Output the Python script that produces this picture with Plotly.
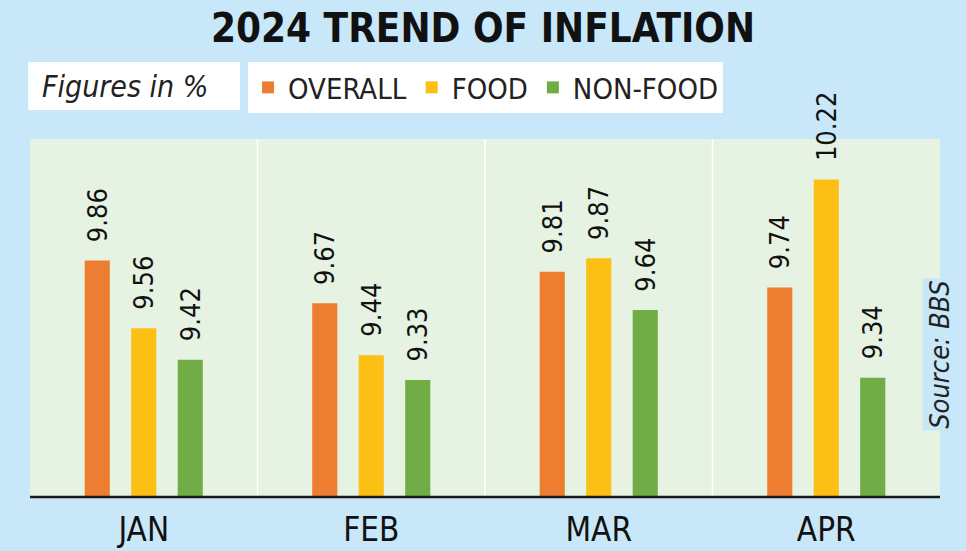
import plotly.graph_objects as go

months = ["JAN", "FEB", "MAR", "APR"]
overall = [9.86, 9.67, 9.81, 9.74]
food = [9.56, 9.44, 9.87, 10.22]
non_food = [9.42, 9.33, 9.64, 9.34]
series_names = ["OVERALL", "FOOD", "NON-FOOD"]
colors = ["#ED7D31", "#FCBF14", "#70AD47"]

FONT = "DejaVu Sans Condensed, sans-serif"
BG = "#C8E8FA"
PLOT_BG = "#E6F2E2"
Y0, Y1 = 8.81, 10.40

fig = go.Figure()
for name, vals, col in zip(series_names, [overall, food, non_food], colors):
    fig.add_trace(go.Bar(
        x=months, y=[v - Y0 for v in vals], base=Y0, name=name,
        marker=dict(color=col, line=dict(width=0)),
        text=["\u00a0\u00a0" + f"{v:.2f}" for v in vals], textposition="outside",
        textangle=-90, constraintext="none", cliponaxis=False,
        textfont=dict(family=FONT, size=27, color="#111111"),
    ))

fig.update_layout(
    width=966, height=551,
    margin=dict(l=30, r=26, t=139, b=54, autoexpand=False),
    paper_bgcolor=BG, plot_bgcolor=PLOT_BG,
    barmode="group", bargap=0.387, bargroupgap=0.46,
    title=dict(text="<b>2024 TREND OF INFLATION</b>", x=0.5, xanchor="center",
               y=1 - 28 / 551, yanchor="middle", yref="container",
               font=dict(family=FONT, size=40, color="#111111")),
    showlegend=True,
    legend=dict(orientation="h", x=0.2396, xanchor="left", y=1.215, yanchor="top",
                bgcolor="white", borderwidth=0,
                font=dict(family=FONT, size=29, color="#222222"),
                itemsizing="constant", traceorder="normal"),
    xaxis=dict(showgrid=False, zeroline=False, showline=False, ticks="",
               ticklabelstandoff=10, automargin=False,
               tickfont=dict(family=FONT, size=33, color="#111111")),
    yaxis=dict(range=[Y0, Y1], visible=False, showgrid=False, zeroline=False,
               automargin=False),
)

# white separators between months
for i in range(len(months) - 1):
    fig.add_shape(type="line", xref="x", yref="paper", x0=i + 0.5, x1=i + 0.5,
                  y0=0, y1=1, line=dict(color="white", width=1.5), layer="below")

# baseline
fig.add_shape(type="line", xref="paper", yref="paper", x0=0, x1=1, y0=0, y1=0,
              line=dict(color="#1a1a1a", width=2.5))

# "Figures in %" box
fig.add_shape(type="rect", xref="paper", yref="paper", x0=-0.002, x1=0.2308,
              y0=1.081, y1=1.215, fillcolor="white", line=dict(width=0))
fig.add_annotation(xref="paper", yref="paper", x=0.011, y=1.148, xanchor="left",
                   yanchor="middle", showarrow=False, text="<i>Figures in %</i>",
                   font=dict(family=FONT, size=30, color="#222222"))

# source
fig.add_annotation(xref="paper", yref="paper", x=1.0, y=0.397, xanchor="center",
                   yanchor="middle", showarrow=False, textangle=-90,
                   text="<i>Source: BBS</i>", bgcolor=BG, borderpad=1,
                   font=dict(family=FONT, size=27, color="#222222"))

fig.write_html("out.html")
